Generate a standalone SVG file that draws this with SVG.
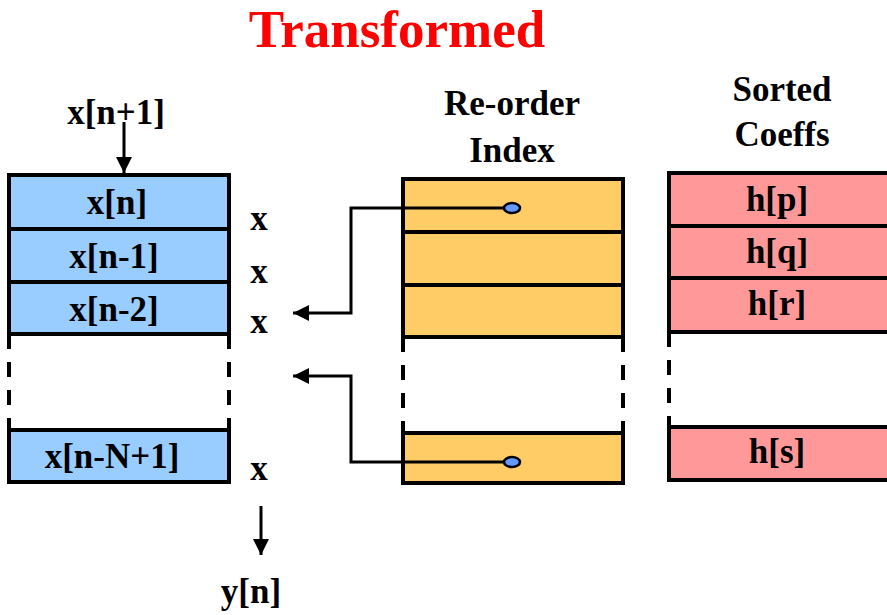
<svg xmlns="http://www.w3.org/2000/svg" width="887" height="615" viewBox="0 0 887 615">
  <style>
    .lbl { font-family: "Liberation Serif", "Times New Roman", serif; font-weight: bold; font-size: 35px; fill: #000; text-anchor: middle; }
    .title { font-family: "Liberation Serif", "Times New Roman", serif; font-weight: bold; font-size: 53px; fill: #ff0000; text-anchor: middle; }
    .cell { stroke: #000; stroke-width: 4; }
    .blue { fill: #99ccff; }
    .orange { fill: #ffcc66; }
    .red { fill: #ff9999; }
    .dash { stroke: #000; stroke-width: 4; stroke-dasharray: 15 13; fill: none; }
    .wire { stroke: #000; stroke-width: 3; fill: none; }
    .dot { fill: #6699ff; stroke: #000; stroke-width: 2.5; }
  </style>
  <defs>
    <marker id="arrow" markerUnits="userSpaceOnUse" markerWidth="16" markerHeight="16" refX="16" refY="8" orient="auto">
      <path d="M0,0 L16,8 L0,16 z" fill="#000"/>
    </marker>
  </defs>

  <text class="title" x="397" y="47">Transformed</text>

  <!-- input sample and output -->
  <text class="lbl" x="116" y="124">x[n+1]</text>
  <text class="lbl" x="251" y="603">y[n]</text>

  <!-- multiplier signs -->
  <g id="mult">
    <text class="lbl" x="259" y="230">x</text>
    <text class="lbl" x="259" y="283">x</text>
    <text class="lbl" x="259" y="333">x</text>
    <text class="lbl" x="259" y="480">x</text>
  </g>

  <!-- delay line buffer -->
  <g id="buffer">
    <rect class="cell blue" x="9" y="175" width="220" height="54"/>
    <rect class="cell blue" x="9" y="229" width="220" height="53"/>
    <rect class="cell blue" x="9" y="282" width="220" height="52"/>
    <rect class="cell blue" x="9" y="430" width="220" height="52"/>
    <path class="dash" d="M9,334 V430 M229,334 V430"/>
    <text class="lbl" x="117" y="214">x[n]</text>
    <text class="lbl" x="114" y="268">x[n-1]</text>
    <text class="lbl" x="114" y="321">x[n-2]</text>
    <text class="lbl" x="112" y="468">x[n-N+1]</text>
  </g>

  <!-- re-order index table -->
  <g id="index">
    <text class="lbl" x="512" y="115">Re-order</text>
    <text class="lbl" x="512" y="162">Index</text>
    <rect class="cell orange" x="403" y="179" width="220" height="53"/>
    <rect class="cell orange" x="403" y="232" width="220" height="53"/>
    <rect class="cell orange" x="403" y="285" width="220" height="52"/>
    <rect class="cell orange" x="403" y="433" width="220" height="50"/>
    <path class="dash" d="M403,337 V433 M623,337 V433"/>
  </g>

  <!-- sorted coefficient table -->
  <g id="coeffs">
    <text class="lbl" x="782" y="101">Sorted</text>
    <text class="lbl" x="782" y="146">Coeffs</text>
    <rect class="cell red" x="669" y="173" width="222" height="53"/>
    <rect class="cell red" x="669" y="226" width="222" height="52"/>
    <rect class="cell red" x="669" y="278" width="222" height="54"/>
    <rect class="cell red" x="669" y="427" width="222" height="53"/>
    <path class="dash" d="M669,332 V427"/>
    <text class="lbl" x="777" y="211">h[p]</text>
    <text class="lbl" x="777" y="263">h[q]</text>
    <text class="lbl" x="777" y="315">h[r]</text>
    <text class="lbl" x="777" y="463">h[s]</text>
  </g>

  <!-- connectors -->
  <g id="connectors">
    <line class="wire" x1="124" y1="122" x2="124" y2="173" marker-end="url(#arrow)"/>
    <line class="wire" x1="261" y1="506" x2="261" y2="555" marker-end="url(#arrow)"/>
    <path class="wire" d="M512,208 H351 V313 H293" marker-end="url(#arrow)"/>
    <path class="wire" d="M512,462 H351 V376 H293" marker-end="url(#arrow)"/>
    <ellipse class="dot" cx="512" cy="208" rx="8" ry="5"/>
    <ellipse class="dot" cx="512" cy="462" rx="8" ry="5"/>
  </g>
</svg>
